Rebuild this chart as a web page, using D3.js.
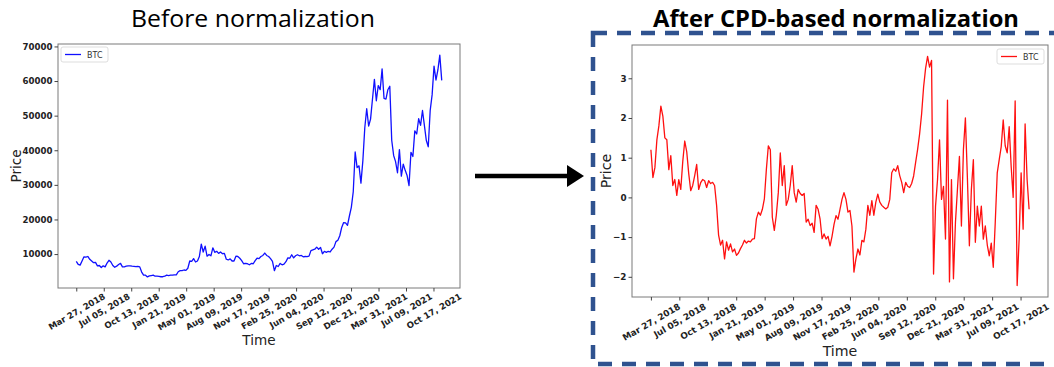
<!DOCTYPE html>
<html>
<head>
  <meta charset="utf-8">
  <title>BTC before / after CPD-based normalization</title>
  <style>
    body { margin: 0; background: #fff; }
    svg { display: block; }
    .tick text { font-family: "DejaVu Sans", sans-serif; font-weight: bold; fill: #222; }
    .axis-title { font-family: "DejaVu Sans", sans-serif; fill: #222; }
    .legend text { font-family: "DejaVu Sans", sans-serif; fill: #333; }
    .title { font-family: "Open Sans", sans-serif; fill: #000; }
  </style>
  <script src="https://d3js.org/d3.v7.min.js"></script>
</head>
<body>
<div id="chart"></div>
<script>
  // weekly samples starting on the first tick date
  const startDate = '2018-03-27';
  const stepDays = 7;

  // BTC close price (USD)
  const btcPrice = [
    // 2018
    7900, 7000, 6800, 8000, 9200, 9100, 9300, 8500, 8000, 7500,
    7600, 6600, 6700, 6100, 6600, 6300, 7400, 8200, 7700, 6700,
    6200, 6500, 7000, 7300, 6300, 6300, 6500, 6600, 6600, 6500,
    6450, 6350, 6450, 6300, 4800, 3900, 3900, 3400, 3700, 3800,
    // 2019
    3900, 3600, 3600, 3550, 3450, 3450, 3600, 3900, 3800, 3900,
    3900, 4000, 4000, 4900, 5200, 5200, 5400, 5300, 5900, 8000,
    7900, 8700, 7700, 8000, 9300, 12900, 10600, 12300, 9400, 9900,
    9500, 11800, 10500, 10800, 10200, 10600, 10100, 10200, 8500, 8300,
    8600, 8000, 8000, 9400, 9300, 8800, 8100, 7200, 7300, 7200,
    6900, 7300, 7200,
    // 2020
    8100, 8800, 8700, 9300, 9600, 10300, 9600, 9300, 8700, 7900,
    5200, 6700, 6400, 7300, 6900, 7100, 7800, 8900, 8800, 9800,
    8900, 9500, 9800, 9500, 9600, 9200, 9300, 9250, 9400, 11000,
    11200, 11400, 12000, 11400, 11900, 10100, 10800, 10500, 10800, 10600,
    11400, 12000, 13600, 14000, 15300, 17700, 19100, 19000, 18300, 21000,
    23500, 28000,
    // 2021
    39500, 35000, 35500, 30500, 37000, 46500, 52000, 47000, 49000, 54800,
    60500, 54300, 58700, 57500, 63500, 55000, 54800, 57500, 58500, 42900,
    38500, 36700, 33500, 40200, 32500, 36000, 34200, 32700, 29800, 39400,
    38200, 45600, 44700, 49100, 47200, 51500, 47100, 42800, 41000, 51500,
    56000, 64300, 60300, 63200, 67500, 60200
  ];

  // same weeks after CPD-based normalization
  const btcNormalized = [
    1.2, 0.5, 0.75, 1.45, 1.8, 2.3, 2.05, 1.5, 1.45, 0.7,
    1.05, 0.3, 0.45, 0.05, 0.45, 0.2, 0.9, 1.42, 1.15, 0.6,
    0.17, 0.3, 0.55, 0.83, 0.2, 0.37, 0.45, 0.42, 0.25, 0.42,
    0.35, 0.38, 0.3, -0.2, -0.95, -1.2, -1.08, -1.55, -1.12, -1.33,
    -1.17, -1.37, -1.3, -1.46, -1.4, -1.29, -1.2, -1.08, -1.15, -1.1,
    -1.12, -1.05, -1.04, -0.54, -0.37, -0.45, -0.3, -0.04, 0.7, 1.3,
    1.2, -0.5, -0.83, -0.45, 0.12, 1.12, 0.3, 0.8, -0.2, -0.05,
    0.3, 0.8, 0.12, -0.12, 0.2, 0.1, 0.05, 0.1, -0.62, -0.55,
    -0.71, -0.65, -0.88, -0.2, -0.3, -0.55, -1.04, -0.92, -1.05, -0.98,
    -1.22, -0.98, -0.68, -0.46, -0.55, -0.3, -0.05, 0.12, -0.05, -0.37,
    -0.33, -0.72, -1.88, -1.55, -1.3, -1.45, -1.08, -1.12, -0.8, -0.2,
    -0.45, -0.08, -0.45, -0.12, 0.08, -0.12, -0.2, -0.25, -0.29, -0.25,
    -0.05, 0.62, 0.72, 0.66, 0.8, 0.55, 0.38, 0.12, 0.38, 0.28,
    0.25, 0.35, 0.54, 0.88, 1.21, 1.6, 2.1, 2.78, 3.25, 3.55,
    3.28, 3.45, -1.93, -0.22, 0.45, 1.45, -0.05, 0.28, -1.05, 2.45,
    -2.13, 0.45, -2.05, -0.63, 0.2, 1.03, -0.72, 1.2, 2.0, 0.5,
    -1.22, 0.2, 0.95, -1.13, -0.22, -0.72, -0.22, -1.05, -0.72, -1.2,
    -1.47, -1.15, -1.76, -0.63, 0.62, 0.95, 1.28, 1.95, 1.3, 1.12,
    1.78, 0.78, 0.0, 2.43, -2.22, -1.05, 0.62, -0.8, 1.85, 0.45,
    -0.3
  ];

  const tickLabels = [
    'Mar 27, 2018', 'Jul 05, 2018', 'Oct 13, 2018', 'Jan 21, 2019',
    'May 01, 2019', 'Aug 09, 2019', 'Nov 17, 2019', 'Feb 25, 2020',
    'Jun 04, 2020', 'Sep 12, 2020', 'Dec 21, 2020', 'Mar 31, 2021',
    'Jul 09, 2021', 'Oct 17, 2021'
  ];
  const priceTicks = [10000, 20000, 30000, 40000, 50000, 60000, 70000];
  const normTicks = [-2, -1, 0, 1, 2, 3];

  const W = 1054, H = 367;
  const parseTick = d3.timeParse('%b %d, %Y');
  const tickDates = tickLabels.map(parseTick);
  const start = d3.timeParse('%Y-%m-%d')(startDate);
  const dates = btcPrice.map((d, i) => d3.timeDay.offset(start, i * stepDays));

  const svg = d3.select('#chart').append('svg')
    .attr('width', W)
    .attr('height', H);

  // matplotlib-like 5% margins on both ends
  function padded(ext) {
    const a = +ext[0], b = +ext[1], m = (b - a) * 0.05;
    return [a - m, b + m];
  }

  function drawPanel(p) {
    const g = svg.append('g');

    const x = d3.scaleTime()
      .domain(padded(d3.extent(dates)).map(t => new Date(t)))
      .range([p.left, p.right]);
    const y = d3.scaleLinear()
      .domain(padded(d3.extent(p.values)))
      .range([p.bottom, p.top]);

    g.append('path')
      .datum(p.values)
      .attr('fill', 'none')
      .attr('stroke', p.color)
      .attr('stroke-width', 1.3)
      .attr('stroke-linejoin', 'round')
      .attr('d', d3.line().x((d, i) => x(dates[i])).y(d => y(d)));

    g.append('rect')
      .attr('x', p.left).attr('y', p.top)
      .attr('width', p.right - p.left).attr('height', p.bottom - p.top)
      .attr('fill', 'none')
      .attr('stroke', '#7a7a7a');

    const xAxis = g.append('g')
      .attr('transform', `translate(0,${p.bottom})`)
      .call(d3.axisBottom(x)
        .tickValues(tickDates)
        .tickFormat(d3.timeFormat('%b %d, %Y'))
        .tickSize(3.5));
    xAxis.select('.domain').remove();
    xAxis.selectAll('.tick line').attr('stroke', '#444');
    xAxis.selectAll('.tick text').each(function () {
      const t = d3.select(this)
        .attr('y', 0).attr('dy', null)
        .attr('font-size', p.tickFont)
        .attr('text-anchor', 'middle')
        .attr('dominant-baseline', 'central');
      const len = this.getComputedTextLength();
      const off = p.labelGap + (len * 0.5 + p.tickFont * 0.87) / 2;
      t.attr('transform', `translate(0,${off}) rotate(-30)`);
    });

    const yAxis = g.append('g')
      .attr('transform', `translate(${p.left},0)`)
      .call(d3.axisLeft(y)
        .tickValues(p.yTicks)
        .tickFormat(d3.format('d'))
        .tickSize(3.5)
        .tickPadding(2));
    yAxis.select('.domain').remove();
    yAxis.selectAll('.tick line').attr('stroke', '#444');
    yAxis.selectAll('.tick text').attr('font-size', p.tickFont);

    g.append('text')
      .attr('class', 'axis-title')
      .attr('x', (p.left + p.right) / 2)
      .attr('y', p.timeY)
      .attr('text-anchor', 'middle')
      .attr('font-size', p.labelFont)
      .text('Time');

    g.append('text')
      .attr('class', 'axis-title')
      .attr('transform', `translate(${p.priceX},${(p.top + p.bottom) / 2}) rotate(-90)`)
      .attr('text-anchor', 'middle')
      .attr('font-size', p.labelFont)
      .text('Price');

    // legend
    const lg = g.append('g').attr('class', 'legend')
      .attr('transform', `translate(${p.legend[0]},${p.legend[1]})`);
    lg.append('rect')
      .attr('width', 47).attr('height', 15).attr('rx', 2)
      .attr('fill', '#fff').attr('stroke', '#d4d4d4').attr('stroke-width', 0.8);
    lg.append('line')
      .attr('x1', 4).attr('x2', 20).attr('y1', 7.5).attr('y2', 7.5)
      .attr('stroke', p.color).attr('stroke-width', 1.3);
    lg.append('text')
      .attr('x', 26).attr('y', 10.5)
      .attr('font-size', 8)
      .text('BTC');
  }

  drawPanel({
    values: btcPrice, yTicks: priceTicks, color: '#1010ff',
    left: 58, right: 460, top: 44, bottom: 288,
    tickFont: 8.6, labelGap: 4, labelFont: 13.6, timeY: 345, priceX: 21,
    legend: [61, 47]
  });

  drawPanel({
    values: btcNormalized, yTicks: normTicks, color: '#ff1010',
    left: 632, right: 1048, top: 45, bottom: 297,
    tickFont: 8.8, labelGap: 5, labelFont: 14.2, timeY: 356, priceX: 611,
    legend: [997, 49]
  });

  // slide titles
  svg.append('text').attr('class', 'title')
    .attr('x', 131).attr('y', 27)
    .attr('font-size', 24)
    .attr('textLength', 244).attr('lengthAdjust', 'spacingAndGlyphs')
    .text('Before normalization');

  svg.append('text').attr('class', 'title')
    .attr('x', 653).attr('y', 27)
    .attr('font-size', 23).attr('font-weight', 'bold')
    .attr('textLength', 366).attr('lengthAdjust', 'spacingAndGlyphs')
    .text('After CPD-based normalization');

  // arrow between the panels
  svg.append('line')
    .attr('x1', 475).attr('x2', 570).attr('y1', 176).attr('y2', 176)
    .attr('stroke', '#000').attr('stroke-width', 4.5);
  svg.append('path')
    .attr('d', 'M567,165 L584,176 L567,187 Z')
    .attr('fill', '#000');

  // dashed highlight box around the right panel
  svg.append('rect')
    .attr('x', 593).attr('y', 33)
    .attr('width', 480).attr('height', 331)
    .attr('fill', 'none')
    .attr('stroke', '#2f528f')
    .attr('stroke-width', 4.5)
    .attr('stroke-dasharray', '14 10');
</script>
</body>
</html>
